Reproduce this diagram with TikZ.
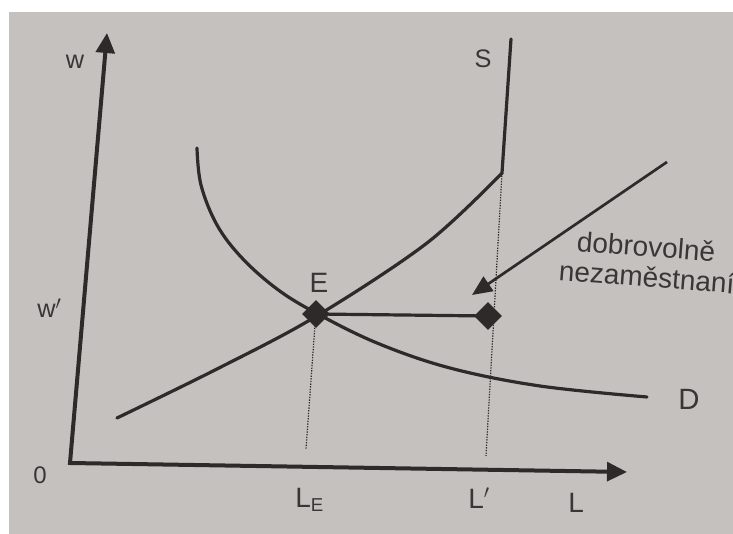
\documentclass[tikz,border=0pt]{standalone}
\usepackage{fontspec}
\setmainfont{Liberation Sans}
\usetikzlibrary{arrows.meta,shapes.geometric}
\definecolor{paper}{RGB}{197,193,190}
\definecolor{ink}{RGB}{46,42,42}
\definecolor{txt}{RGB}{58,54,54}
\newcommand{\fsz}[1]{\fontsize{#1}{#1}\selectfont}
\begin{document}
\begin{tikzpicture}[x=0.75pt,y=-0.75pt,
  axis/.style={ink,line width=3pt,line join=miter,
    {Triangle[length=15pt,width=14pt]}-{Triangle[length=15pt,width=14pt]}},
  curve/.style={ink,line width=2.4pt,line cap=round,line join=miter},
  guide/.style={ink,line width=0.9pt,dash pattern=on 1pt off 1pt},
  mark diamond/.style={diamond,fill=ink,inner sep=0pt,minimum width=21pt,minimum height=21pt},
  lab/.style={text=txt,inner sep=0pt}]
\useasboundingbox (0,0) rectangle (733,534);
\fill[white] (0,0) rectangle (733,534);
\fill[paper] (9,12) rectangle (733,534);

% coordinates
\coordinate (O) at (70,463);
\coordinate (ytop) at (107,33);
\coordinate (xtip) at (627,472);
\coordinate (K) at (502,173);
\coordinate (Stop) at (511,39);
\coordinate (LEb) at (306,449);
\coordinate (Lpb) at (486,456);
\coordinate (a1) at (667,162);
\coordinate (a2) at (472,295);

% guides
\draw[guide] (315,325) -- (LEb);
\draw[guide] (K) -- (Lpb);

% axes
\draw[axis] (ytop) -- (O) -- (xtip);

% supply curve S
\draw[curve] plot[smooth,tension=0.55] coordinates {(117,418) (217,369) (315,317) (427,243) (502,173)} -- (Stop);

% demand curve D
\draw[curve] plot[smooth,tension=0.6] coordinates {(197,148) (201,185) (217,225) (242,258) (277,289) (316,313) (377,343) (450,368) (540,386) (647,397)};

% points
\node[mark diamond] (E) at (316,314) {};
\node[mark diamond] (P) at (488,316) {};
\draw[ink,line width=2.4pt] (E.center) -- (P.center);

% arrow
\draw[ink,line width=2pt,-{Triangle[length=15pt,width=13pt]}] (a1) -- (a2);

% labels
\node[lab,font=\fsz{19}] (lw) at (75,62) {w};
\node[lab,font=\fsz{19},anchor=base west] (lwp) at (37,318) {w$'$};
\node[lab,font=\fsz{18}] (l0) at (40,475) {0};
\node[lab,font=\fsz{19}] (lS) at (483,59) {S};
\node[lab,font=\fsz{21}] (lE) at (319,283) {E};
\node[lab,font=\fsz{21},anchor=base west] (lLE) at (295,508) {L\raisebox{-3pt}{\fsz{14}E}};
\node[lab,font=\fsz{21},anchor=base west] (lLp) at (468,509) {L$'$};
\node[lab,font=\fsz{21},anchor=base west] (lL) at (568,513) {L};
\node[lab,font=\fsz{22},anchor=base west] (lD) at (678,410) {D};
\node[lab,font=\fsz{21},anchor=base west,rotate=-4.5] (t1) at (576,251) {dobrovolně};
\node[lab,font=\fsz{21},anchor=base west,rotate=-4.5] (t2) at (558,280) {nezaměstnaní};
\end{tikzpicture}
\end{document}
